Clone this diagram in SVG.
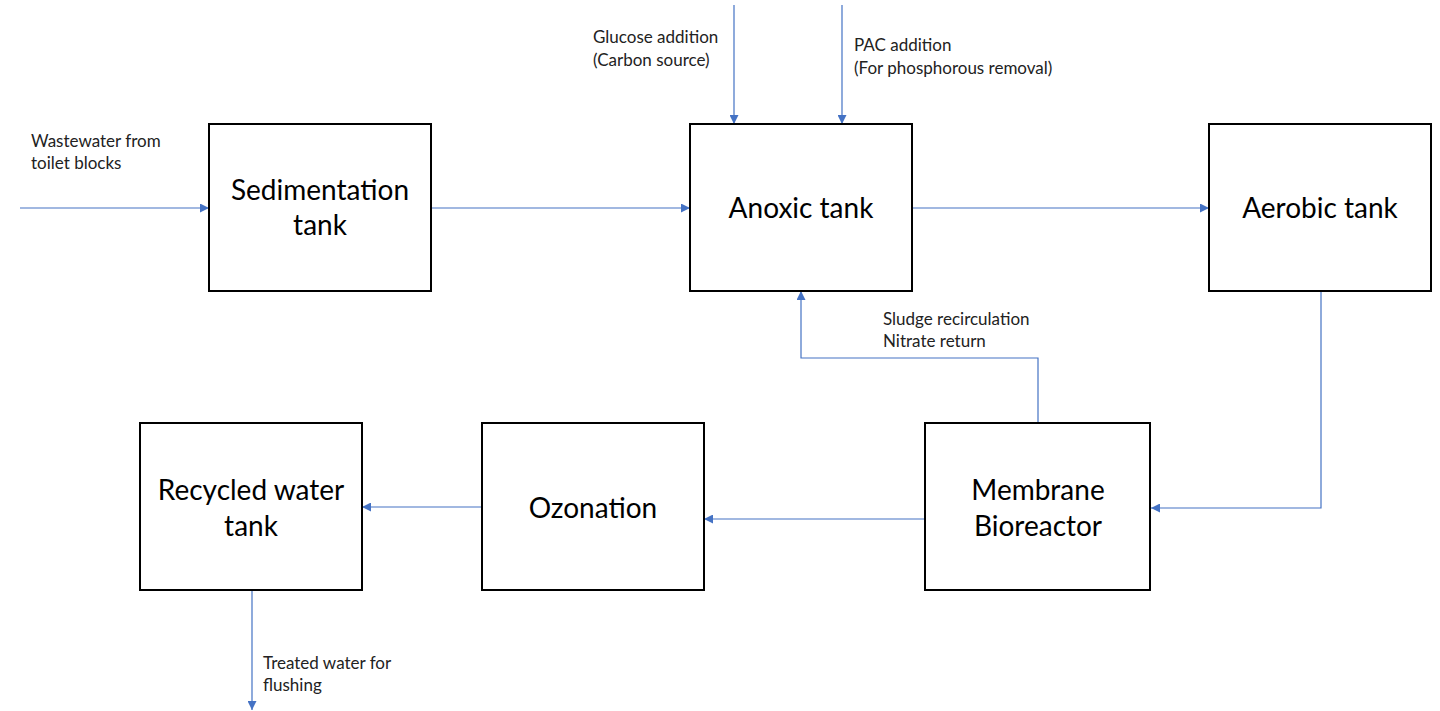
<svg xmlns="http://www.w3.org/2000/svg" width="1440" height="711" viewBox="0 0 1440 711">
<style>
.box{fill:#fff;stroke:#000;stroke-width:2}
.bt{font-family:Lato,"Open Sans",sans-serif;font-size:28px;fill:#000;text-anchor:middle}
.lb{font-family:Lato,"Open Sans",sans-serif;font-size:17px;fill:#222}
.c{fill:none;stroke:#4472C4;stroke-width:1.2}
</style>
<defs>
<marker id="ah" viewBox="0 0 10 10" refX="10" refY="5" markerWidth="9" markerHeight="9" markerUnits="userSpaceOnUse" orient="auto">
<path d="M0,0 L10,5 L0,10 Z" fill="#4472C4"/>
</marker>
</defs>
<rect width="1440" height="711" fill="#fff"/>
<g id="connectors">
<path class="c" d="M20,208 H209" marker-end="url(#ah)"/>
<path class="c" d="M431,208 H690" marker-end="url(#ah)"/>
<path class="c" d="M912,208 H1209" marker-end="url(#ah)"/>
<path class="c" d="M734,5 V124" marker-end="url(#ah)"/>
<path class="c" d="M842,5 V124" marker-end="url(#ah)"/>
<path class="c" d="M1321,291 V508 H1151" marker-end="url(#ah)"/>
<path class="c" d="M925,519 H704" marker-end="url(#ah)"/>
<path class="c" d="M482,507 H362" marker-end="url(#ah)"/>
<path class="c" d="M252,591 V710" marker-end="url(#ah)"/>
<path class="c" d="M1038,423 V358 H801 V291" marker-end="url(#ah)"/>
</g>
<g id="labels">
<text class="lb" x="31" y="147">Wastewater from</text>
<text class="lb" x="31" y="169">toilet blocks</text>
<text class="lb" x="593" y="43">Glucose addition</text>
<text class="lb" x="593" y="66">(Carbon source)</text>
<text class="lb" x="854" y="51">PAC addition</text>
<text class="lb" x="854" y="74">(For phosphorous removal)</text>
<text class="lb" x="883" y="325">Sludge recirculation</text>
<text class="lb" x="883" y="347">Nitrate return</text>
<text class="lb" x="263" y="669">Treated water for</text>
<text class="lb" x="263" y="691">flushing</text>
</g>
<g id="sedimentation">
<rect class="box" x="209" y="124" width="222" height="167"/>
<text class="bt" x="320" y="200">Sedimentation</text>
<text class="bt" x="320" y="235">tank</text>
</g>
<g id="anoxic">
<rect class="box" x="690" y="124" width="222" height="167"/>
<text class="bt" x="801" y="218">Anoxic tank</text>
</g>
<g id="aerobic">
<rect class="box" x="1209" y="124" width="222" height="167"/>
<text class="bt" x="1320" y="218">Aerobic tank</text>
</g>
<g id="mbr">
<rect class="box" x="925" y="423" width="225" height="167"/>
<text class="bt" x="1038" y="500">Membrane</text>
<text class="bt" x="1038" y="536">Bioreactor</text>
</g>
<g id="ozonation">
<rect class="box" x="482" y="423" width="222" height="167"/>
<text class="bt" x="593" y="518">Ozonation</text>
</g>
<g id="recycled">
<rect class="box" x="140" y="423" width="222" height="167"/>
<text class="bt" x="251" y="500">Recycled water</text>
<text class="bt" x="251" y="536">tank</text>
</g>
</svg>
